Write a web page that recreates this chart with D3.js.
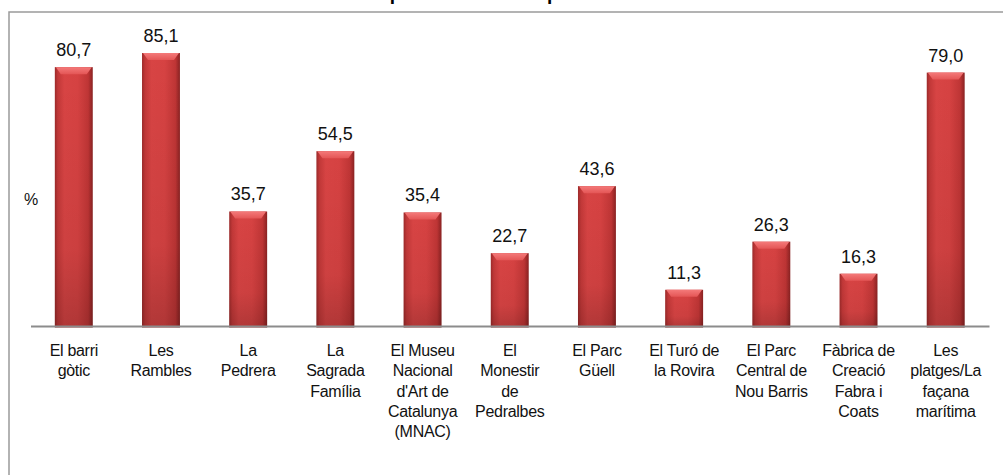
<!DOCTYPE html>
<html>
<head>
<meta charset="utf-8">
<script src="https://cdn.jsdelivr.net/npm/d3@7"></script>
<style>
  html, body { margin: 0; padding: 0; background: #fff; }
  svg { display: block; font-family: Arial, "Liberation Sans", sans-serif; }
</style>
</head>
<body>
<svg id="chart" width="1003" height="475"></svg>
<script>
// Data
const categories = [
    "El barri\ngòtic",
    "Les\nRambles",
    "La\nPedrera",
    "La\nSagrada\nFamília",
    "El Museu\nNacional\nd'Art de\nCatalunya\n(MNAC)",
    "El\nMonestir\nde\nPedralbes",
    "El Parc\nGüell",
    "El Turó de\nla Rovira",
    "El Parc\nCentral de\nNou Barris",
    "Fàbrica de\nCreació\nFabra i\nCoats",
    "Les\nplatges/La\nfaçana\nmarítima"
];
const values = [80.7, 85.1, 35.7, 54.5, 35.4, 22.7, 43.6, 11.3, 26.3, 16.3, 79.0];
const yMax = 90;
const title = "Espais més visitats per a la ciutat";

const svg = d3.select("#chart");
const width = 1003, height = 475;
const margin = { left: 30.5, right: 14, top: 37.3, baseline: 326 };

// outer frame (top and left edges visible, rest runs off the picture)
svg.append("rect")
    .attr("x", 9).attr("y", 12)
    .attr("width", 1100).attr("height", 600)
    .attr("fill", "none")
    .attr("stroke", "#9a9a9a")
    .attr("stroke-width", 1.5);

// title, mostly cut off by the top edge as in the original
svg.append("text")
    .attr("x", 518).attr("y", 0)
    .attr("text-anchor", "middle")
    .style("font-size", "19px")
    .style("font-weight", "bold")
    .text(title);

const x = d3.scaleBand()
    .domain(d3.range(categories.length))
    .range([margin.left, width - margin.right])
    .paddingInner(0.565)
    .paddingOuter(0.279);

const y = d3.scaleLinear()
    .domain([0, yMax])
    .range([margin.baseline, margin.top]);

// gradients for the cylinder look
const defs = svg.append("defs");
const body = defs.append("linearGradient").attr("id", "barBody")
    .attr("x1", "0").attr("x2", "1").attr("y1", "0").attr("y2", "0");
[["0%", "#9c2a2a"], ["8%", "#c23838"], ["25%", "#d84444"], ["60%", "#d64242"], ["88%", "#bf3535"], ["100%", "#8a2222"]]
    .forEach(([o, c]) => body.append("stop").attr("offset", o).attr("stop-color", c));
const shade = defs.append("linearGradient").attr("id", "barShade")
    .attr("x1", "0").attr("x2", "0").attr("y1", "0").attr("y2", "1");
[["0%", "#000", 0], ["70%", "#000", 0.05], ["100%", "#000", 0.18]]
    .forEach(([o, c, a]) => shade.append("stop").attr("offset", o).attr("stop-color", c).attr("stop-opacity", a));
const cap = defs.append("linearGradient").attr("id", "barCap")
    .attr("x1", "0").attr("x2", "0").attr("y1", "0").attr("y2", "1");
[["0%", "#f47a7a"], ["100%", "#e45656"]]
    .forEach(([o, c]) => cap.append("stop").attr("offset", o).attr("stop-color", c));

const bars = svg.append("g").selectAll("g.bar")
    .data(values)
    .join("g")
    .attr("class", "bar");

bars.append("rect")
    .attr("x", (d, i) => x(i))
    .attr("y", d => y(d))
    .attr("width", x.bandwidth())
    .attr("height", d => y(0) - y(d) + 1.5)
    .attr("fill", "url(#barBody)");

bars.append("rect")
    .attr("x", (d, i) => x(i))
    .attr("y", d => y(d))
    .attr("width", x.bandwidth())
    .attr("height", d => y(0) - y(d) + 1.5)
    .attr("fill", "url(#barShade)");

// bevelled top highlight
bars.append("path")
    .attr("d", (d, i) => {
        const x0 = x(i), x1 = x(i) + x.bandwidth(), t = y(d);
        return `M${x0 + 1},${t} L${x1 - 1},${t} L${x1 - 6},${t + 7} L${x0 + 6},${t + 7} Z`;
    })
    .attr("fill", "url(#barCap)");

// value labels
svg.append("g").selectAll("text")
    .data(values)
    .join("text")
    .attr("x", (d, i) => x(i) + x.bandwidth() / 2)
    .attr("y", d => y(d) - 11)
    .attr("text-anchor", "middle")
    .style("font-size", "18px")
    .attr("fill", "#111")
    .text(d => d3.format(".1f")(d).replace(".", ","));

// baseline axis
const axis = svg.append("g")
    .attr("transform", `translate(0,${margin.baseline})`)
    .call(d3.axisBottom(x).tickSize(0).tickFormat(""));
axis.select(".domain").attr("stroke", "#8c8c8c").attr("stroke-width", 2.2);

// category labels
const labels = svg.append("g").selectAll("text")
    .data(categories)
    .join("text")
    .attr("text-anchor", "middle")
    .attr("transform", (d, i) => `translate(${x(i) + x.bandwidth() / 2},356)`)
    .style("font-size", "16px")
    .style("letter-spacing", "-0.3px")
    .attr("fill", "#111");
labels.selectAll("tspan")
    .data(d => d.split("\n"))
    .join("tspan")
    .attr("x", 0)
    .attr("y", (d, i) => i * 20.3)
    .text(d => d);

// y-axis unit
svg.append("text")
    .attr("x", 31).attr("y", 205)
    .attr("text-anchor", "middle")
    .style("font-size", "16px")
    .attr("fill", "#111")
    .text("%");
</script>
</body>
</html>
